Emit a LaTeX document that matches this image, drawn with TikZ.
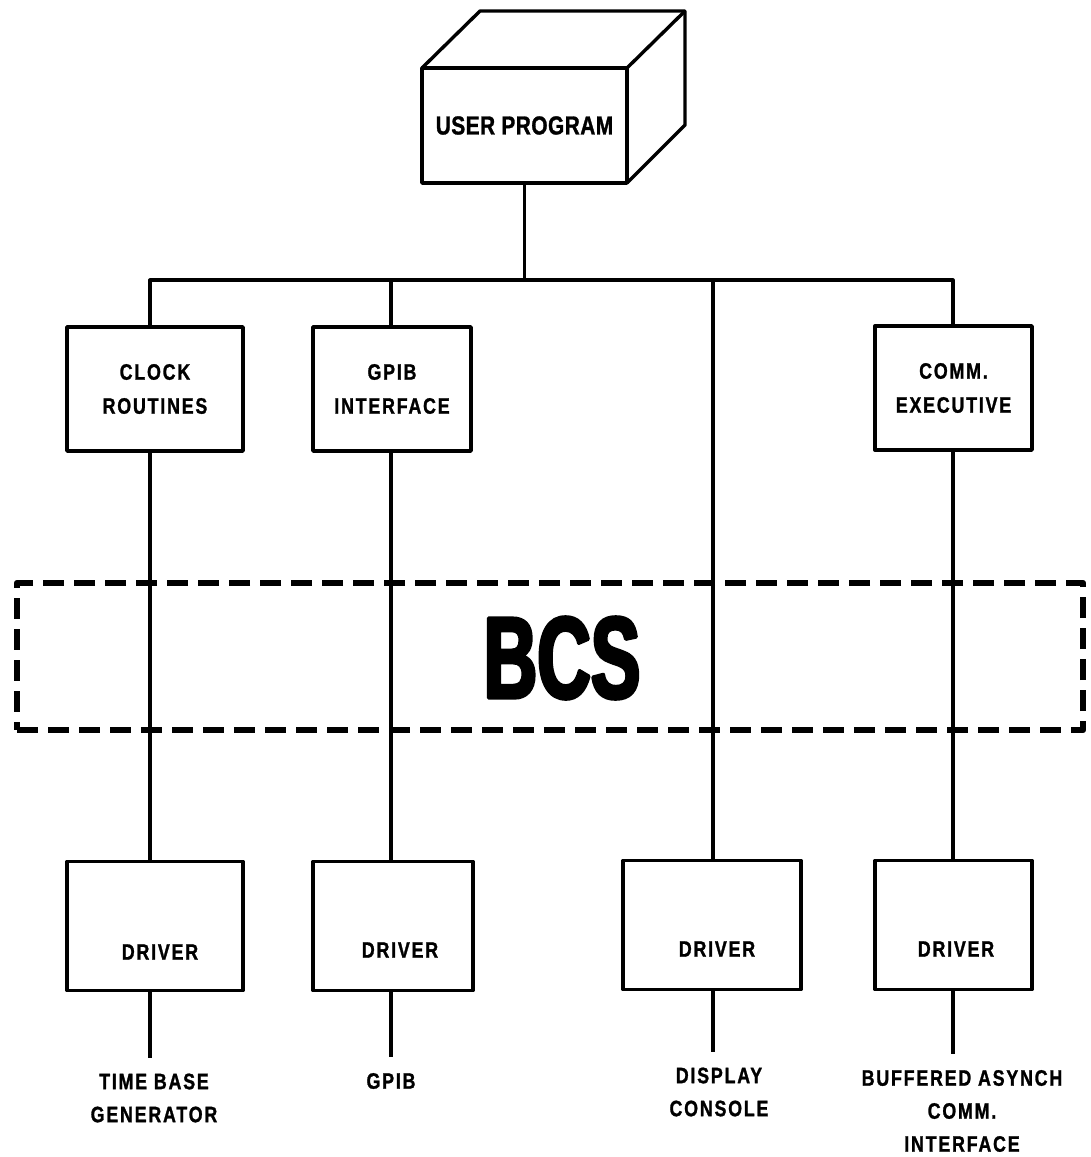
\documentclass[tikz,border=0pt]{standalone}
\usepackage{fontspec}
\newfontfamily\lblfont[FakeStretch=0.8,LetterSpace=8,BoldFeatures={FakeStretch=0.8,LetterSpace=8,FakeBold=1.2}]{Liberation Sans}
\newfontfamily\topfont[FakeStretch=0.8,LetterSpace=2,BoldFeatures={FakeStretch=0.8,LetterSpace=2,FakeBold=1.2}]{Liberation Sans}
\newfontfamily\bigfont[FakeStretch=0.66,BoldFeatures={FakeStretch=0.64,FakeBold=3}]{Liberation Sans}
\begin{document}
\begin{tikzpicture}[x=1pt,y=-1pt,
  line width=3.2pt, line join=round,
  box/.style={draw, line width=3.4pt, outer sep=0pt, inner sep=0pt},
  modbox/.style={box, minimum width=#1, minimum height=124pt, align=center,
     font=\lblfont\bfseries\fontsize{22.3}{34}\selectfont},
  drvbox/.style={box, minimum width=#1, minimum height=129pt},
  lbl/.style={inner sep=0pt, outer sep=0pt, align=center,
     font=\lblfont\bfseries\fontsize{22.3}{33}\selectfont},
  dashbox/.style={draw, line width=6.5pt, dash pattern=on 21pt off 10pt,
     minimum width=1066pt, minimum height=147pt, inner sep=0pt, outer sep=0pt}
]
\useasboundingbox[fill=white] (0,0) rectangle (1091,1157);

% user program cube
\node[box, minimum width=205pt, minimum height=115pt,
      font=\topfont\bfseries\fontsize{26}{30}\selectfont] (user) at (524.5,125.5) {USER PROGRAM};
\draw[line width=3.4pt] (user.north west) -- ++(58,-57) -- ++(205,0) -- ++(0,114) -- (user.south east);
\draw[line width=3.4pt] (user.north east) -- ++(58,-57);

% bus coordinates
\coordinate (busL) at (150,280);
\coordinate (busM) at (391,280);
\coordinate (busD) at (713,280);
\coordinate (busR) at (953,280);

% module boxes
\node[modbox=176pt] (clock) at (155,389) {CLOCK\\ROUTINES};
\node[modbox=158pt] (gpibif) at (392,389) {GPIB\\INTERFACE};
\node[modbox=157pt] (comm) at (953.5,388) {COMM.\\EXECUTIVE};

% BCS dashed region
\node[dashbox] (bcsbox) at (550,656.5) {};
\node[font=\bigfont\bfseries\fontsize{116}{120}\selectfont, inner sep=0pt] (bcs) at (562,658) {BCS};

% driver boxes
\node[drvbox=176pt] (d1) at (155,926) {};
\node[drvbox=160pt] (d2) at (393,926) {};
\node[drvbox=178pt] (d3) at (712,925) {};
\node[drvbox=157pt] (d4) at (953.5,925) {};
\node[lbl] (d1t) at (160,952) {DRIVER};
\node[lbl] (d2t) at (400,950) {DRIVER};
\node[lbl] (d3t) at (717,949) {DRIVER};
\node[lbl] (d4t) at (956,949) {DRIVER};

% device labels
\node[lbl] (t1) at (154,1098) {TIME BASE\\GENERATOR};
\node[lbl] (t2) at (391,1081) {GPIB};
\node[lbl] (t3) at (719,1092) {DISPLAY\\CONSOLE};
\node[lbl] (t4) at (962,1111) {BUFFERED ASYNCH\\COMM.\\INTERFACE};

% connectors: user program to bus
\draw (user.south) -- (user.south |- busL);
\draw (busL |- clock.north) -- (busL) -- (busR) -- (busR |- comm.north);
\draw (busM) -- (busM |- gpibif.north);

% module to driver
\draw (busL |- clock.south) -- (busL |- d1.north);
\draw (busM |- gpibif.south) -- (busM |- d2.north);
\draw (busD) -- (busD |- d3.north);
\draw (busR |- comm.south) -- (busR |- d4.north);

% driver to device
\draw[shorten >=16pt] (busL |- d1.south) -- (busL |- t1.north);
\draw[shorten >=16pt] (busM |- d2.south) -- (busM |- t2.north);
\draw[shorten >=16pt] (busD |- d3.south) -- (busD |- t3.north);
\draw[shorten >=16pt] (busR |- d4.south) -- (busR |- t4.north);
\end{tikzpicture}
\end{document}
